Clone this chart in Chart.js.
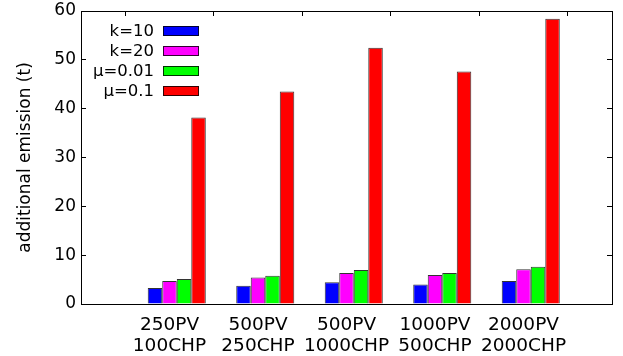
<!DOCTYPE html>
<html>
<head>
<meta charset="utf-8">
<script src="https://cdn.jsdelivr.net/npm/chart.js@4.4.0/dist/chart.umd.min.js"></script>
<style>
  html, body { margin: 0; padding: 0; background: #fff; }
</style>
</head>
<body>
<canvas id="emission-chart" width="623" height="356"></canvas>
<script>
// scenario names (two-line tick labels)
const scenarios = [
  ["250PV", "100CHP"],
  ["500PV", "250CHP"],
  ["500PV", "1000CHP"],
  ["1000PV", "500CHP"],
  ["2000PV", "2000CHP"],
];

const seriesNames = ["k=10", "k=20", "μ=0.01", "μ=0.1"];
const seriesColors = ["#0000ff", "#ff00ff", "#00ff00", "#ff0000"];

// additional emission (t)
const k10 = [3.3, 3.75, 4.45, 4.0, 4.7];
const k20 = [4.7, 5.45, 6.35, 5.95, 7.1];
const mu001 = [5.1, 5.8, 6.95, 6.35, 7.65];
const mu01 = [38.2, 43.5, 52.5, 47.6, 58.4];

const yTicks = [0, 10, 20, 30, 40, 50, 60];

Chart.defaults.font.family = "'DejaVu Sans', sans-serif";
Chart.defaults.color = "#000";

// gnuplot leaves an empty slot before each cluster and a blank category on both ends
const pad = (arr) => [null, ...arr, null];
const labels = ["", ...scenarios, ""];

const datasets = [
  {
    label: "",
    data: pad(scenarios.map(() => null)),
    backgroundColor: "rgba(0,0,0,0)",
  },
];
[k10, k20, mu001, mu01].forEach((values, i) => {
  datasets.push({
    label: seriesNames[i],
    data: pad(values),
    backgroundColor: seriesColors[i],
    borderColor: "rgba(0,0,0,0.8)",
    borderWidth: 1,
  });
});

// legend inside the plot: text right-aligned, swatch on its right
const keyPlugin = {
  id: "key",
  afterDatasetsDraw(chart) {
    const { ctx, chartArea: a } = chart;
    ctx.save();
    ctx.font = "16.5px 'DejaVu Sans'";
    ctx.textAlign = "right";
    ctx.textBaseline = "middle";
    let row = 0;
    chart.data.datasets.forEach((ds) => {
      if (!ds.label) return;
      const y = a.top + 20 + row * 20;
      ctx.fillStyle = "#000";
      ctx.fillText(ds.label, a.left + 73, y + 1);
      ctx.fillStyle = ds.backgroundColor;
      ctx.fillRect(a.left + 82, y - 5, 36, 10);
      ctx.strokeStyle = "rgba(0,0,0,0.8)";
      ctx.strokeRect(a.left + 82.5, y - 4.5, 35, 9);
      row++;
    });
    ctx.restore();
  },
};

// frame sides: black border, inward ticks (negative tick length)
const frameBorder = { display: true, color: "#000", width: 1 };
const inwardGrid = { display: true, drawOnChartArea: false, color: "#000", tickLength: -5 };
const setYTicks = (s) => { s.ticks = yTicks.map((v) => ({ value: v })); };

new Chart(document.getElementById("emission-chart"), {
  type: "bar",
  data: { labels: labels, datasets: datasets },
  options: {
    responsive: false,
    animation: false,
    layout: { padding: { top: 11, right: 11, left: 0, bottom: 0 } },
    datasets: {
      bar: { categoryPercentage: 0.82, barPercentage: 1 },
    },
    plugins: {
      legend: { display: false },
      tooltip: { enabled: false },
    },
    scales: {
      x: {
        position: "bottom",
        offset: false,
        grid: { display: true, drawOnChartArea: false, drawTicks: false },
        border: frameBorder,
        ticks: {
          autoSkip: false,
          maxRotation: 0,
          padding: 11,
          font: { size: 18.5, lineHeight: 1.13 },
        },
        afterFit: (s) => {
          s.height = 52;
          s.paddingLeft = 0;
          s.paddingRight = 0;
        },
      },
      xTop: {
        type: "category",
        position: "top",
        offset: false,
        grid: inwardGrid,
        border: frameBorder,
        ticks: { display: false, autoSkip: false },
        afterFit: (s) => {
          s.height = 0;
          s.paddingLeft = 0;
          s.paddingRight = 0;
        },
      },
      y: {
        position: "left",
        min: 0,
        max: 60,
        grid: inwardGrid,
        border: frameBorder,
        ticks: { padding: 10, font: { size: 17 } },
        afterBuildTicks: setYTicks,
        title: {
          display: true,
          text: "additional emission (t)",
          font: { size: 17 },
          padding: { top: 15, bottom: 0 },
        },
        afterFit: (s) => {
          s.width = 81;
          s.paddingTop = 0;
          s.paddingBottom = 0;
        },
      },
      yRight: {
        position: "right",
        min: 0,
        max: 60,
        grid: inwardGrid,
        border: frameBorder,
        ticks: { display: false },
        afterBuildTicks: setYTicks,
        afterFit: (s) => {
          s.width = 0;
          s.paddingTop = 0;
          s.paddingBottom = 0;
        },
      },
    },
  },
  plugins: [keyPlugin],
});
</script>
</body>
</html>
